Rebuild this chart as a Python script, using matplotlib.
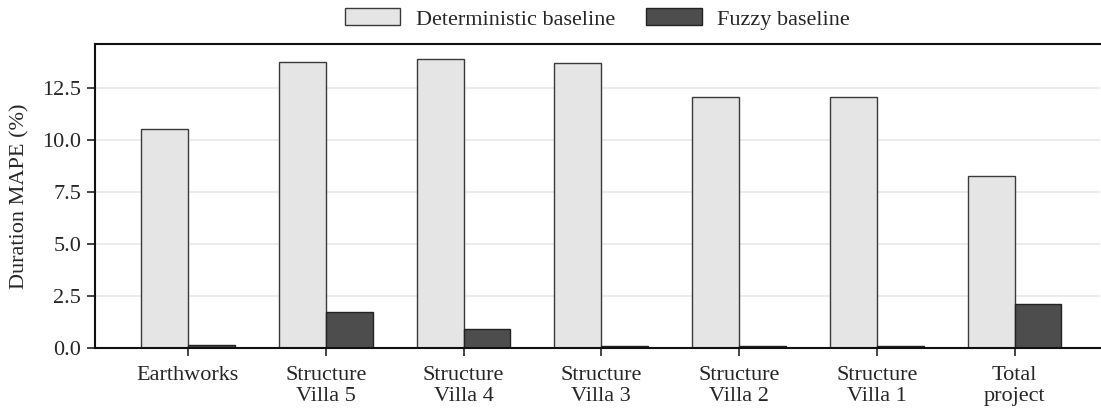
import numpy as np
import matplotlib
matplotlib.use("Agg")
import matplotlib.pyplot as plt

plt.rcParams['font.family'] = ['Liberation Serif', 'DejaVu Serif']
plt.rcParams['text.color'] = '#262626'
plt.rcParams['axes.labelcolor'] = '#262626'
plt.rcParams['xtick.color'] = '#262626'
plt.rcParams['ytick.color'] = '#262626'

# categories and MAPE values (%)
categories = ['Earthworks', 'Structure\nVilla 5', 'Structure\nVilla 4', 'Structure\nVilla 3',
              'Structure\nVilla 2', 'Structure\nVilla 1', 'Total\nproject']
deterministic = [10.53, 13.72, 13.88, 13.70, 12.07, 12.07, 8.27]
fuzzy = [0.14, 1.75, 0.93, 0.08, 0.08, 0.08, 2.10]

x = np.arange(len(categories))
w = 0.34

fig = plt.figure(figsize=(11.01, 4.12), dpi=100)
ax = fig.add_axes([95 / 1101, 1 - 348 / 412, 1005 / 1101, 304 / 412])

ax.grid(axis='y', color='#e8e8e8', linewidth=1.2, zorder=0)
ax.bar(x - w / 2, deterministic, w, color='#e5e5e5', edgecolor='#3a3a3a', linewidth=1.0,
       label='Deterministic baseline', zorder=2)
ax.bar(x + w / 2, fuzzy, w, color='#4d4d4d', edgecolor='#222222', linewidth=1.0,
       label='Fuzzy baseline', zorder=2)

ax.set_xlim(-0.675, 6.62)
ax.set_ylim(0, 14.6)
ax.set_yticks([0, 2.5, 5, 7.5, 10, 12.5])
ax.set_yticklabels(['0.0', '2.5', '5.0', '7.5', '10.0', '12.5'])
ax.set_xticks(x)
ax.set_xticklabels(categories, linespacing=1.15)
ax.set_ylabel('Duration MAPE (%)', fontsize=16, labelpad=9)
ax.tick_params(labelsize=16, width=1.2, length=6, pad=4)
ax.tick_params(axis='x', pad=7)

ax.spines['right'].set_visible(False)
for s in ['top', 'left', 'bottom']:
    ax.spines[s].set_linewidth(1.5)
    ax.spines[s].set_color('#111111')

ax.legend(loc='lower center', bbox_to_anchor=(0.5, 1.0), ncol=2, frameon=False,
          fontsize=16, handlelength=2.5, handleheight=0.8, handletextpad=0.7,
          columnspacing=1.4, borderaxespad=0.25)

fig.savefig('out.png', dpi=100)
